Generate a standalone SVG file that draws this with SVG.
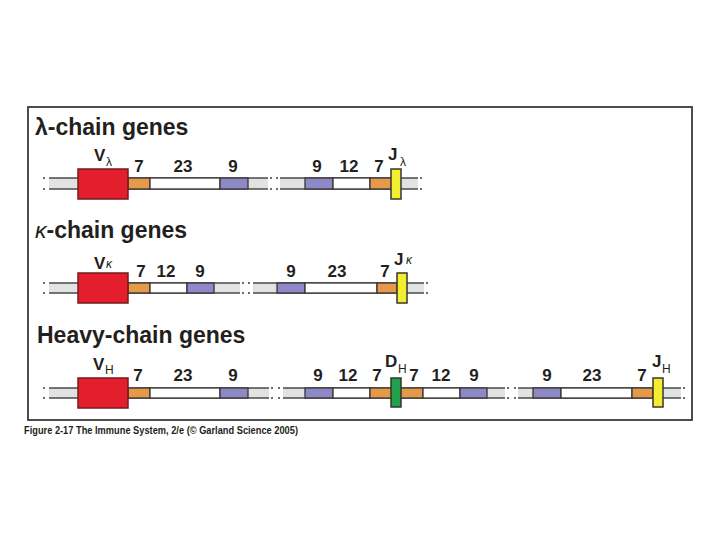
<svg xmlns="http://www.w3.org/2000/svg" width="720" height="540" viewBox="0 0 720 540">
<style>
.title{font-family:"Liberation Sans",Arial,sans-serif;font-weight:bold;font-size:23px;fill:#231f20}
.num{font-family:"Liberation Sans",Arial,sans-serif;font-weight:bold;font-size:17px;fill:#231f20;text-anchor:middle}
.lab{font-family:"Liberation Sans",Arial,sans-serif;font-weight:bold;font-size:17px;fill:#231f20}
.sub{font-family:"Liberation Sans",Arial,sans-serif;font-size:12px;fill:#231f20}
.subi{font-family:"Liberation Sans",Arial,sans-serif;font-size:12px;font-style:italic;fill:#231f20}
.cap{font-family:"Liberation Sans",Arial,sans-serif;font-weight:bold;font-size:10px;fill:#231f20}
.gray{fill:#e1e2e2}
.line{stroke:#4a4a4a;stroke-width:1.5;fill:none}
.dot{fill:#4a4a4a}
.seg{stroke:#3a3434;stroke-width:1.3}
.red{fill:#e41f2d;stroke:#7a1a1f;stroke-width:1.5}
.org{fill:#e49a4a}
.wht{fill:#ffffff}
.pur{fill:#8d88c6}
.yel{fill:#f4ef2e;stroke:#3a3434;stroke-width:1.5}
.grn{fill:#22a04c;stroke:#2a3a2a;stroke-width:1.5}
</style>
<rect x="0" y="0" width="720" height="540" fill="#ffffff"/>
<rect id="frame" x="28" y="107" width="664" height="313" fill="none" stroke="#3a3a3a" stroke-width="1.8"/>

<g id="lambda">
  <text class="title" x="35" y="135">λ-chain genes</text>
  <g id="lambda-bar">
    <rect class="gray" x="49" y="178" width="219" height="11"/>
    <rect class="gray" x="280" y="178" width="138" height="11"/>
    <path class="line" d="M49 178H268M49 189H268M280 178H418M280 189H418"/>
    <circle class="dot" cx="44" cy="178" r="1.1"/><circle class="dot" cx="44" cy="189" r="1.1"/>
    <circle class="dot" cx="271" cy="178" r="1.1"/><circle class="dot" cx="271" cy="189" r="1.1"/>
    <circle class="dot" cx="277" cy="178" r="1.1"/><circle class="dot" cx="277" cy="189" r="1.1"/>
    <circle class="dot" cx="421" cy="178" r="1.1"/><circle class="dot" cx="421" cy="189" r="1.1"/>
    <rect class="seg org" x="128" y="178" width="22" height="11"/>
    <rect class="seg wht" x="150" y="178" width="70" height="11"/>
    <rect class="seg pur" x="220" y="178" width="28" height="11"/>
    <rect class="seg pur" x="305" y="178" width="28" height="11"/>
    <rect class="seg wht" x="333" y="178" width="37" height="11"/>
    <rect class="seg org" x="370" y="178" width="22" height="11"/>
  </g>
  <g id="lambda-V"><rect class="red" x="78" y="169" width="50" height="30"/>
    <text class="lab" x="94" y="161">V</text><text class="sub" x="106" y="166">λ</text></g>
  <g id="lambda-J"><rect class="yel" x="391" y="169" width="10" height="30"/>
    <text class="lab" x="388" y="160">J</text><text class="sub" x="400" y="166">λ</text></g>
  <text class="num" x="139" y="172">7</text>
  <text class="num" x="183" y="172">23</text>
  <text class="num" x="233" y="172">9</text>
  <text class="num" x="317" y="172">9</text>
  <text class="num" x="349" y="172">12</text>
  <text class="num" x="379" y="172">7</text>
</g>

<g id="kappa">
  <text class="title" x="35" y="238"><tspan font-style="italic" font-weight="normal">κ</tspan>-chain genes</text>
  <g id="kappa-bar">
    <rect class="gray" x="49" y="283" width="191" height="10"/>
    <rect class="gray" x="253" y="283" width="171" height="10"/>
    <path class="line" d="M49 283H240M49 293H240M253 283H424M253 293H424"/>
    <circle class="dot" cx="44" cy="283" r="1.1"/><circle class="dot" cx="44" cy="293" r="1.1"/>
    <circle class="dot" cx="243" cy="283" r="1.1"/><circle class="dot" cx="243" cy="293" r="1.1"/>
    <circle class="dot" cx="249" cy="283" r="1.1"/><circle class="dot" cx="249" cy="293" r="1.1"/>
    <circle class="dot" cx="427" cy="283" r="1.1"/><circle class="dot" cx="427" cy="293" r="1.1"/>
    <rect class="seg org" x="128" y="283" width="22" height="10"/>
    <rect class="seg wht" x="150" y="283" width="37" height="10"/>
    <rect class="seg pur" x="187" y="283" width="27" height="10"/>
    <rect class="seg pur" x="277" y="283" width="28" height="10"/>
    <rect class="seg wht" x="305" y="283" width="72" height="10"/>
    <rect class="seg org" x="377" y="283" width="20" height="10"/>
  </g>
  <g id="kappa-V"><rect class="red" x="78" y="273" width="50" height="30"/>
    <text class="lab" x="94" y="269">V</text><text class="subi" x="106" y="268">κ</text></g>
  <g id="kappa-J"><rect class="yel" x="397" y="273" width="10" height="30"/>
    <text class="lab" x="394" y="265">J</text><text class="subi" x="406" y="264">κ</text></g>
  <text class="num" x="141" y="277">7</text>
  <text class="num" x="166" y="277">12</text>
  <text class="num" x="200" y="277">9</text>
  <text class="num" x="291" y="277">9</text>
  <text class="num" x="337" y="277">23</text>
  <text class="num" x="385" y="277">7</text>
</g>

<g id="heavy">
  <text class="title" x="37" y="343">Heavy-chain genes</text>
  <g id="heavy-bar">
    <rect class="gray" x="49" y="388" width="220" height="10"/>
    <rect class="gray" x="283" y="388" width="222" height="10"/>
    <rect class="gray" x="518" y="388" width="163" height="10"/>
    <path class="line" d="M49 388H269M49 398H269M283 388H505M283 398H505M518 388H681M518 398H681"/>
    <circle class="dot" cx="44" cy="388" r="1.1"/><circle class="dot" cx="44" cy="398" r="1.1"/>
    <circle class="dot" cx="272" cy="388" r="1.1"/><circle class="dot" cx="272" cy="398" r="1.1"/>
    <circle class="dot" cx="279" cy="388" r="1.1"/><circle class="dot" cx="279" cy="398" r="1.1"/>
    <circle class="dot" cx="508" cy="388" r="1.1"/><circle class="dot" cx="508" cy="398" r="1.1"/>
    <circle class="dot" cx="515" cy="388" r="1.1"/><circle class="dot" cx="515" cy="398" r="1.1"/>
    <circle class="dot" cx="684" cy="388" r="1.1"/><circle class="dot" cx="684" cy="398" r="1.1"/>
    <rect class="seg org" x="128" y="388" width="22" height="10"/>
    <rect class="seg wht" x="150" y="388" width="70" height="10"/>
    <rect class="seg pur" x="220" y="388" width="28" height="10"/>
    <rect class="seg pur" x="305" y="388" width="28" height="10"/>
    <rect class="seg wht" x="333" y="388" width="37" height="10"/>
    <rect class="seg org" x="370" y="388" width="53" height="10"/>
    <rect class="seg wht" x="423" y="388" width="37" height="10"/>
    <rect class="seg pur" x="460" y="388" width="27" height="10"/>
    <rect class="seg pur" x="533" y="388" width="28" height="10"/>
    <rect class="seg wht" x="561" y="388" width="71" height="10"/>
    <rect class="seg org" x="632" y="388" width="21" height="10"/>
  </g>
  <g id="heavy-V"><rect class="red" x="78" y="378" width="50" height="30"/>
    <text class="lab" x="93" y="370">V</text><text class="sub" x="105" y="374">H</text></g>
  <g id="heavy-D"><rect class="grn" x="391" y="378" width="10" height="29"/>
    <text class="lab" x="385" y="367">D</text><text class="sub" x="398" y="373">H</text></g>
  <g id="heavy-J"><rect class="yel" x="653" y="378" width="10" height="29"/>
    <text class="lab" x="652" y="367">J</text><text class="sub" x="662" y="373">H</text></g>
  <text class="num" x="138" y="381">7</text>
  <text class="num" x="183" y="381">23</text>
  <text class="num" x="233" y="381">9</text>
  <text class="num" x="318" y="381">9</text>
  <text class="num" x="348" y="381">12</text>
  <text class="num" x="377" y="381">7</text>
  <text class="num" x="414" y="381">7</text>
  <text class="num" x="441" y="381">12</text>
  <text class="num" x="474" y="381">9</text>
  <text class="num" x="547" y="381">9</text>
  <text class="num" x="592" y="381">23</text>
  <text class="num" x="642" y="381">7</text>
</g>

<text class="cap" x="24" y="434" textLength="274" lengthAdjust="spacingAndGlyphs">Figure 2-17  The Immune System, 2/e (© Garland Science 2005)</text>
</svg>
